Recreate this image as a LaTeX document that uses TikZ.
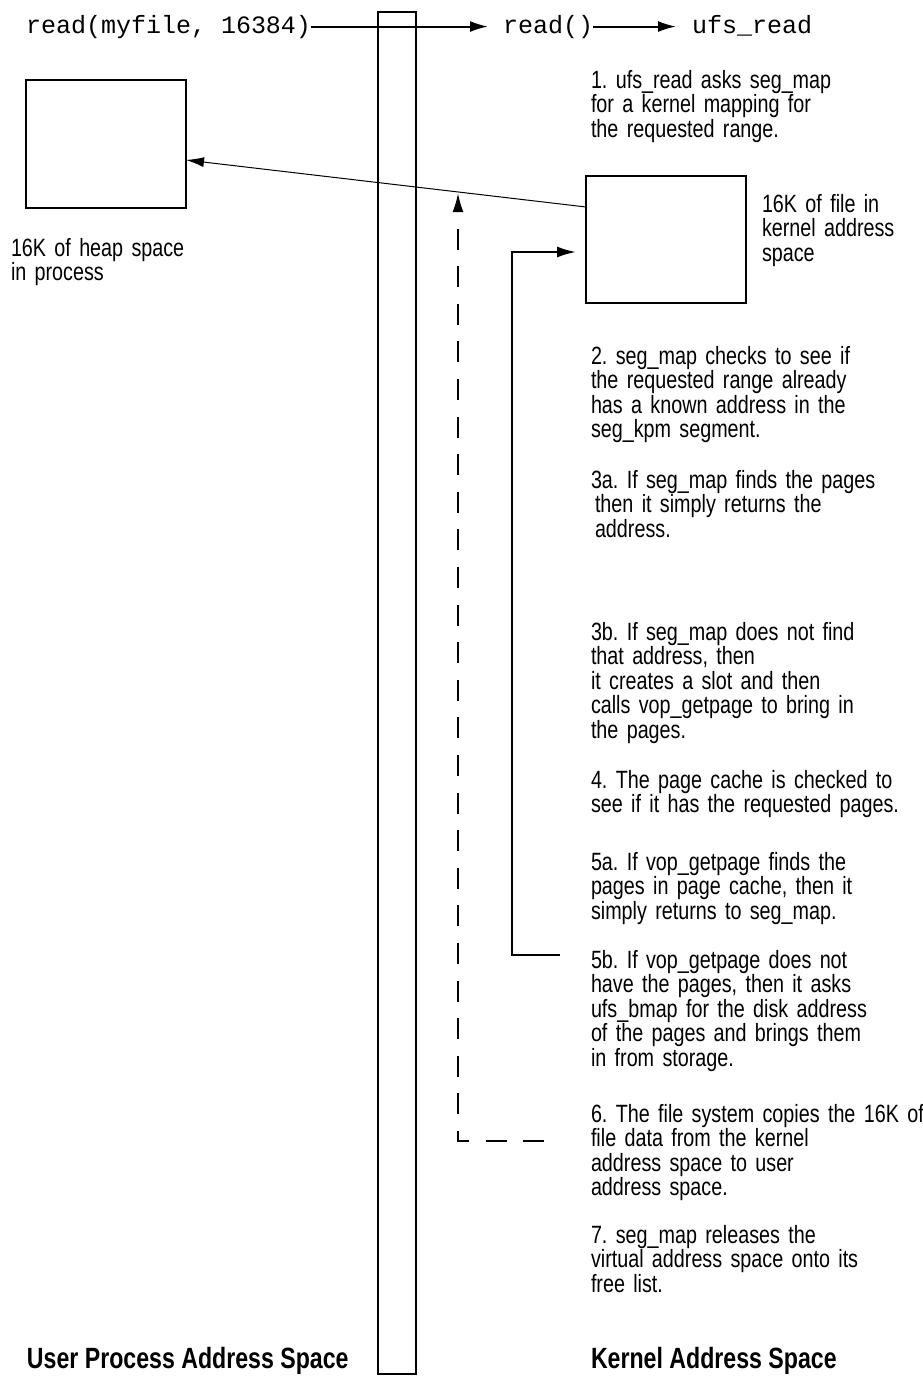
\documentclass[tikz,border=0pt]{standalone}
\usepackage{fontspec}
\setmainfont{Liberation Sans}[FakeStretch=0.79]
\setmonofont{Liberation Mono}
\usetikzlibrary{arrows.meta}
\tikzset{
  box/.style={draw, line width=2pt, inner sep=0pt, outer sep=0pt, anchor=north west},
  txt/.style={inner sep=0pt, outer sep=0pt, anchor=base west, align=left, text width=400pt,
              font=\frenchspacing\fontsize{25}{24.6}\selectfont},
  mono/.style={inner sep=0pt, outer sep=0pt, anchor=base west, font=\ttfamily\fontsize{25}{30}\selectfont},
  lbl/.style={inner sep=0pt, outer sep=0pt, anchor=base west, font=\bfseries\fontsize{29.3}{30}\selectfont},
  arr/.style={line width=2pt, -{Latex[length=18pt,width=11pt]}},
  thinarr/.style={line width=1pt, -{Latex[length=18pt,width=10pt]}},
  dasharr/.style={line width=2pt, dash pattern=on 21pt off 16.6pt, dash phase=21.8pt, -{Latex[length=19pt,width=11pt]}},
}
\begin{document}
\begin{tikzpicture}[x=1pt,y=-1pt]
\useasboundingbox (0,0) rectangle (922,1376);

% boundary bar
\node[box, minimum width=38pt, minimum height=1362pt] (bar) at (378,12) {};

% top call chain
\node[mono] (call) at (26,33) {read(myfile, 16384)};
\node[mono] (rd) at (503,33) {read()};
\node[mono] (ufs) at (692,33) {ufs\_read};
\draw[arr, shorten >=15pt] (call.east) -- (call.east -| rd.west);
\draw[arr, shorten >=16pt] (rd.east) -- (rd.east -| ufs.west);

% boxes
\node[box, minimum width=160pt, minimum height=128pt] (heap) at (26,80) {};
\node[box, minimum width=160pt, minimum height=127pt] (kbox) at (586,176) {};

\node[txt] (heapl) at (11,256) {16K of heap space\\in process};
\node[txt] (kboxl) at (762,212) {16K of file in\\kernel address\\space};

% copy arrow
\draw[thinarr] ([yshift=-31pt]kbox.north west) -- ([yshift=-16pt]heap.east);

% return paths
\coordinate (s5b) at (560,955);
\coordinate (s5bc) at (512,955);
\coordinate (s5bt) at (512,252);
\coordinate (s5be) at (576,252);
\draw[line width=2pt, -{Latex[length=19pt,width=11pt]}] (s5b) -- (s5bc) -- (s5bt) -- (s5be);

\coordinate (d6) at (560,1141);
\coordinate (d6c) at (458,1141);
\coordinate (d6e) at (458,193);
\draw[dasharr] (d6) -- (d6c) -- (d6e);

% steps
\node[txt] (st1) at (591,88) {1. ufs\_read asks seg\_map\\for a kernel mapping for\\the requested range.};
\node[txt] (st2) at (591,364) {2. seg\_map checks to see if\\the requested range already\\has a known address in the\\seg\_kpm segment.};
\node[txt] (st3a) at (591,488) {3a. If seg\_map finds the pages\\\hspace*{4pt}then it simply returns the\\\hspace*{4pt}address.};
\node[txt] (st3b) at (591,640) {3b. If seg\_map does not find\\that address, then\\it creates a slot and then\\calls vop\_getpage to bring in\\the pages.};
\node[txt] (st4) at (591,788) {4. The page cache is checked to\\see if it has the requested pages.};
\node[txt] (st5a) at (591,870) {5a. If vop\_getpage finds the\\pages in page cache, then it\\simply returns to seg\_map.};
\node[txt] (st5b) at (591,968) {5b. If vop\_getpage does not\\have the pages, then it asks\\ufs\_bmap for the disk address\\of the pages and brings them\\in from storage.};
\node[txt] (st6) at (591,1122) {6. The file system copies the 16K of\\file data from the kernel\\address space to user\\address space.};
\node[txt] (st7) at (591,1243) {7. seg\_map releases the\\virtual address space onto its\\free list.};

% bottom labels
\node[lbl] (userl) at (27,1368) {User Process Address Space};
\node[lbl] (kernl) at (591,1368) {Kernel Address Space};
\end{tikzpicture}
\end{document}
